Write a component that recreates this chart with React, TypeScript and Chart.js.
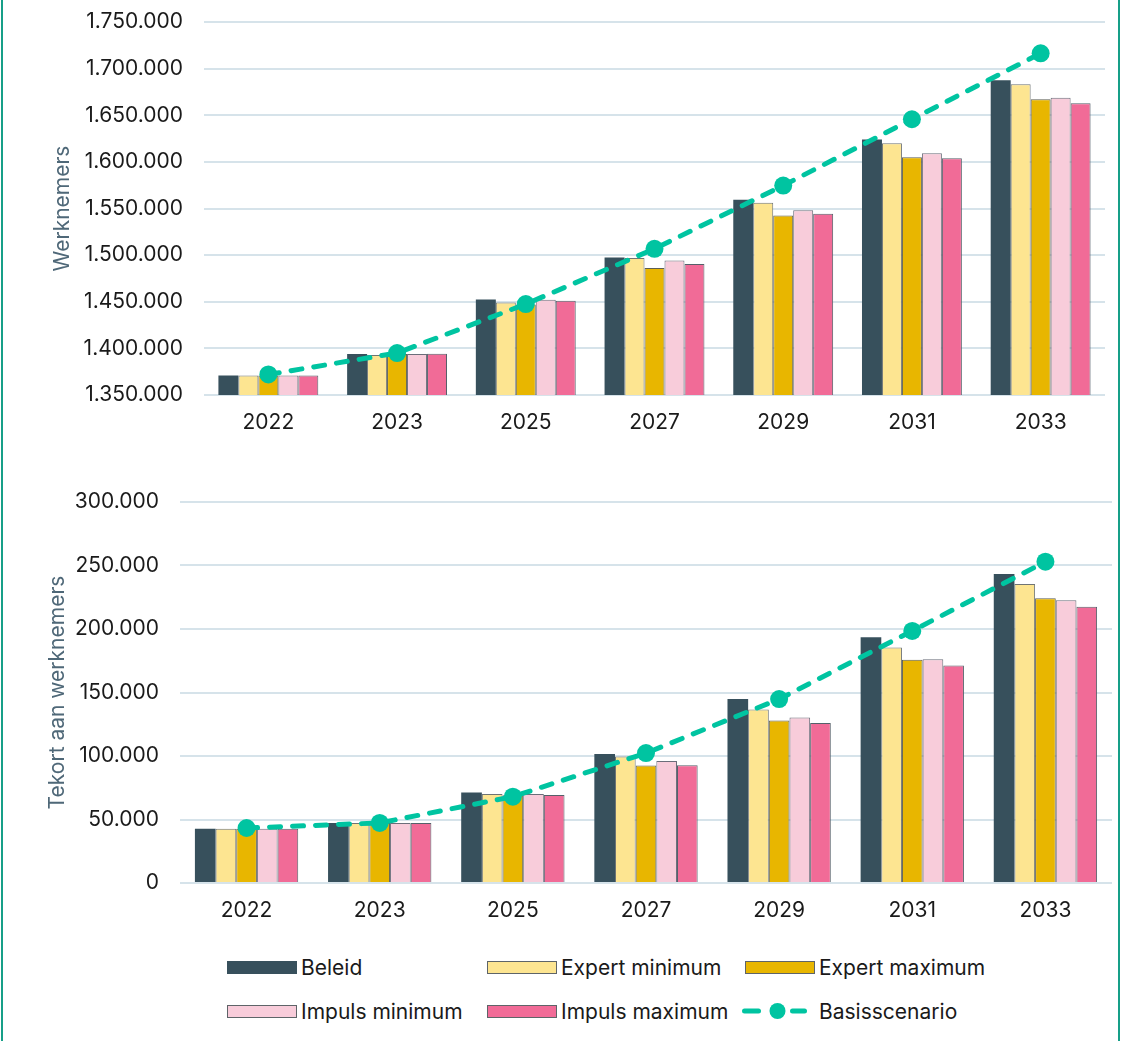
import React, { useEffect, useRef } from 'react';
import { Chart, registerables } from 'chart.js';

Chart.register(...registerables);

// ---------- data ----------
const categories = ['2022', '2023', '2025', '2027', '2029', '2031', '2033'];

const seriesLabels = ['Beleid', 'Expert minimum', 'Expert maximum', 'Impuls minimum', 'Impuls maximum'];
const lineLabel = 'Basisscenario';

// Werknemers (top chart)
const werkBeleid = [1371000, 1394000, 1452500, 1497500, 1559300, 1624000, 1687500];
const werkExpertMin = [1371000, 1393000, 1449300, 1497000, 1556100, 1620000, 1683300];
const werkExpertMax = [1371000, 1394000, 1447000, 1486100, 1542500, 1605000, 1667200];
const werkImpulsMin = [1371000, 1394000, 1452100, 1494300, 1548200, 1609300, 1668900];
const werkImpulsMax = [1371000, 1394300, 1451100, 1490400, 1544300, 1603900, 1662900];
const werkBasis = [1372000, 1395000, 1447500, 1506800, 1574600, 1645700, 1716400];

// Tekort aan werknemers (bottom chart)
const tekortBeleid = [42700, 47300, 71300, 101500, 144800, 193600, 243400];
const tekortExpertMin = [42700, 47300, 70000, 99600, 136600, 185400, 235500];
const tekortExpertMax = [42700, 47300, 69000, 92500, 127900, 175700, 224200];
const tekortImpulsMin = [42700, 47300, 70000, 96000, 130300, 176200, 222700];
const tekortImpulsMax = [42700, 47300, 69200, 92800, 125900, 171200, 217600];
const tekortBasis = [43300, 47300, 68000, 102300, 144800, 198500, 253000];

// ---------- styles ----------
const barColors = ['#37505c', '#fde591', '#e8b600', '#f8ccda', '#f16b97'];
const barBorders = ['#37505c', '#6f7474', '#5d5f55', '#6b6e7a', '#55606a'];
const lineColor = '#00c4a1';
const gridColor = '#d6e3ea';
const frameColor = '#169f88';
const FONT = 'Inter, "Noto Sans", sans-serif';
const FS = 21;

const fmt = (v: number) => String(Math.round(v)).replace(/\B(?=(\d{3})+(?!\d))/g, '.');

type Cfg = {
  bars: number[][];
  line: number[];
  min: number;
  max: number;
  title: string;
  axisWidth: number;
  titlePad: number;
  padTop: number;
  padRight: number;
  xHeight: number;
};

function makeConfig(c: Cfg): any {
  const datasets: any[] = c.bars.map((d, i) => ({
    type: 'bar',
    label: seriesLabels[i],
    data: d,
    backgroundColor: barColors[i],
    borderColor: barBorders[i],
    borderWidth: i === 0 ? 0 : 1,
    categoryPercentage: 0.776,
    barPercentage: 1,
    order: 1,
  }));
  datasets.push({
    type: 'line',
    label: lineLabel,
    data: c.line,
    borderColor: lineColor,
    backgroundColor: lineColor,
    borderWidth: 5,
    borderDash: [11, 12],
    borderCapStyle: 'round',
    pointRadius: 9,
    pointBorderWidth: 0,
    pointBackgroundColor: lineColor,
    tension: 0,
    fill: false,
    order: 0,
  });
  return {
    type: 'bar',
    data: { labels: categories, datasets },
    options: {
      responsive: false,
      animation: false,
      devicePixelRatio: 1,
      layout: { padding: { top: c.padTop, right: c.padRight, left: 0, bottom: 0 } },
      plugins: { legend: { display: false }, tooltip: { enabled: false } },
      scales: {
        x: {
          grid: { display: false, drawTicks: false },
          border: { display: false },
          ticks: { color: '#1a1a1a', font: { family: FONT, size: FS }, padding: 15 },
          afterFit: (s: any) => { s.height = c.xHeight; },
        },
        y: {
          min: c.min,
          max: c.max,
          grid: { color: gridColor, lineWidth: 2, drawTicks: false },
          border: { display: false },
          ticks: {
            stepSize: 50000,
            color: '#1a1a1a',
            font: { family: FONT, size: FS },
            padding: 21,
            callback: (v: any) => fmt(Number(v)),
          },
          title: {
            display: true,
            text: c.title,
            color: '#4f6878',
            font: { family: FONT, size: FS },
            padding: { top: c.titlePad, bottom: 0 },
          },
          afterFit: (s: any) => { s.width = c.axisWidth; },
        },
      },
    },
  };
}

function ChartCanvas({ cfg, width, height, top }: { cfg: Cfg; width: number; height: number; top: number }) {
  const ref = useRef<HTMLCanvasElement | null>(null);
  useEffect(() => {
    if (!ref.current) return;
    const chart = new Chart(ref.current, makeConfig(cfg));
    return () => chart.destroy();
  }, []);
  return (
    <canvas
      ref={ref}
      width={width}
      height={height}
      style={{ position: 'absolute', left: 0, top, width, height }}
    />
  );
}

function LegendItem({ i, x, y }: { i: number; x: number; y: number }) {
  const isLine = i === 5;
  return (
    <div style={{ position: 'absolute', left: x, top: y - 13, height: 26, display: 'flex', alignItems: 'center' }}>
      {isLine ? (
        <svg width={70} height={26} style={{ display: 'block', overflow: 'visible' }}>
          <line x1={-0.5} y1={13} x2={13.5} y2={13} stroke={lineColor} strokeWidth={5} strokeLinecap="round" />
          <circle cx={32.5} cy={13} r={8} fill={lineColor} />
          <line x1={47.5} y1={13} x2={59.5} y2={13} stroke={lineColor} strokeWidth={5} strokeLinecap="round" />
        </svg>
      ) : (
        <div
          style={{
            width: 70,
            height: 13,
            boxSizing: 'border-box',
            background: barColors[i],
            border: `1px solid ${i === 0 ? barColors[0] : '#5e6468'}`,
          }}
        />
      )}
      <span style={{ marginLeft: 4, fontFamily: FONT, fontSize: FS, color: '#1a1a1a', whiteSpace: 'nowrap' }}>
        {isLine ? lineLabel : seriesLabels[i]}
      </span>
    </div>
  );
}

export default function App() {
  const topCfg: Cfg = {
    bars: [werkBeleid, werkExpertMin, werkExpertMax, werkImpulsMin, werkImpulsMax],
    line: werkBasis,
    min: 1350000,
    max: 1750000,
    title: 'Werknemers',
    axisWidth: 204,
    titlePad: 50,
    padTop: 42,
    padRight: 16,
    xHeight: 55,
  };
  const bottomCfg: Cfg = {
    bars: [tekortBeleid, tekortExpertMin, tekortExpertMax, tekortImpulsMin, tekortImpulsMax],
    line: tekortBasis,
    min: 0,
    max: 300000,
    title: 'Tekort aan werknemers',
    axisWidth: 180,
    titlePad: 45,
    padTop: 42,
    padRight: 9,
    xHeight: 57,
  };
  const legendPos = [
    [227, 967], [487, 967], [745, 967],
    [227, 1011], [487, 1011], [745, 1011],
  ];
  return (
    <div style={{ position: 'absolute', left: 0, top: 0, width: 1121, height: 1041, background: '#fff', overflow: 'hidden' }}>
      <ChartCanvas cfg={topCfg} width={1121} height={470} top={-20} />
      <ChartCanvas cfg={bottomCfg} width={1121} height={480} top={460} />
      {legendPos.map((p, i) => (
        <LegendItem key={i} i={i} x={p[0]} y={p[1]} />
      ))}
      <div style={{ position: 'absolute', left: 1, top: 0, width: 2, height: 1041, background: frameColor }} />
      <div style={{ position: 'absolute', left: 1118, top: 0, width: 2, height: 1041, background: frameColor }} />
    </div>
  );
}
